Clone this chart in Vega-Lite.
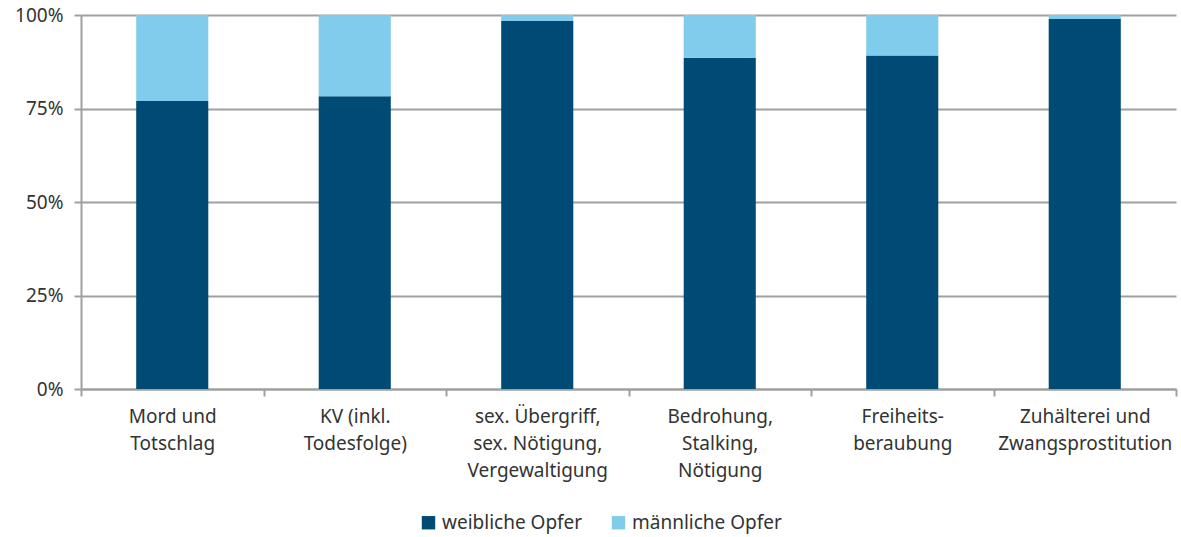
{
  "$schema": "https://vega.github.io/schema/vega-lite/v6.json",
  "width": 1095,
  "height": 374,
  "autosize": "none",
  "padding": {"left": 81, "top": 15, "right": 5, "bottom": 148},
  "background": "white",
  "config": {
    "font": "Noto Sans",
    "view": {"stroke": null},
    "axis": {"labelFont": "Noto Sans", "labelColor": "#333333", "labelFontSize": 19, "domainColor": "#a0a0a0", "tickColor": "#a0a0a0", "gridColor": "#a0a0a0", "domainWidth": 2, "tickWidth": 2, "gridWidth": 2}
  },
  "data": {
    "values": [
      {"kat": "Mord und|Totschlag", "idx": 1, "g": "weibliche Opfer", "go": 1, "v": 77.0},
      {"kat": "Mord und|Totschlag", "idx": 1, "g": "männliche Opfer", "go": 2, "v": 23.0},
      {"kat": "KV (inkl.|Todesfolge)", "idx": 2, "g": "weibliche Opfer", "go": 1, "v": 78.3},
      {"kat": "KV (inkl.|Todesfolge)", "idx": 2, "g": "männliche Opfer", "go": 2, "v": 21.7},
      {"kat": "sex. Übergriff,|sex. Nötigung,|Vergewaltigung", "idx": 3, "g": "weibliche Opfer", "go": 1, "v": 98.4},
      {"kat": "sex. Übergriff,|sex. Nötigung,|Vergewaltigung", "idx": 3, "g": "männliche Opfer", "go": 2, "v": 1.6},
      {"kat": "Bedrohung,|Stalking,|Nötigung", "idx": 4, "g": "weibliche Opfer", "go": 1, "v": 88.6},
      {"kat": "Bedrohung,|Stalking,|Nötigung", "idx": 4, "g": "männliche Opfer", "go": 2, "v": 11.4},
      {"kat": "Freiheits-|beraubung", "idx": 5, "g": "weibliche Opfer", "go": 1, "v": 89.2},
      {"kat": "Freiheits-|beraubung", "idx": 5, "g": "männliche Opfer", "go": 2, "v": 10.8},
      {"kat": "Zuhälterei und|Zwangsprostitution", "idx": 6, "g": "weibliche Opfer", "go": 1, "v": 98.9},
      {"kat": "Zuhälterei und|Zwangsprostitution", "idx": 6, "g": "männliche Opfer", "go": 2, "v": 1.1}
    ]
  },
  "mark": {"type": "bar", "width": {"band": 0.395}},
  "encoding": {
    "x": {
      "field": "kat", "type": "nominal",
      "sort": {"field": "idx"},
      "scale": {"paddingInner": 0, "paddingOuter": 0},
      "axis": {"title": null, "labelAngle": 0, "labelExpr": "split(datum.label, '|')", "labelLineHeight": 27, "tickBand": "extent", "tickSize": 7, "labelPadding": 11, "grid": false, "labelBaseline": "top"}
    },
    "y": {
      "field": "v", "type": "quantitative", "aggregate": "sum",
      "stack": "normalize",
      "scale": {"domain": [0, 1]},
      "axis": {"title": null, "format": ".0%", "values": [0, 0.25, 0.5, 0.75, 1], "tickSize": 7, "labelPadding": 11, "grid": true, "domain": true}
    },
    "color": {
      "field": "g", "type": "nominal",
      "scale": {"domain": ["weibliche Opfer", "männliche Opfer"], "range": ["#004B75", "#80CCEC"]},
      "legend": {"title": null, "orient": "none", "legendX": 338, "legendY": 498, "direction": "horizontal", "symbolType": "square", "symbolSize": 180, "symbolStrokeWidth": 0, "labelFontSize": 19, "labelColor": "#333333", "labelFont": "Noto Sans", "columnPadding": 26, "labelOffset": 4, "labelLimit": 300}
    },
    "order": {"field": "go", "type": "quantitative", "sort": "ascending"}
  }
}
